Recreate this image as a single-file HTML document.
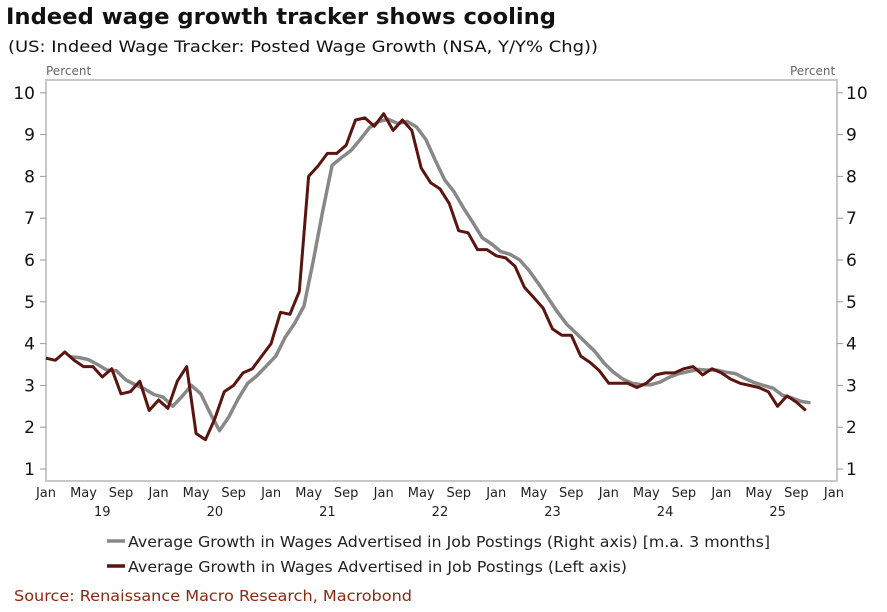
<!DOCTYPE html>
<html><head><meta charset="utf-8"><style>
body{margin:0;background:#fff;width:887px;height:612px;overflow:hidden;font-family:"DejaVu Sans",sans-serif;}
svg{position:absolute;left:0;top:0}
</style></head><body>
<svg id="s" width="887" height="612" xmlns="http://www.w3.org/2000/svg" font-family="DejaVu Sans, Liberation Sans, sans-serif">
<text x="6" y="24" font-size="22" font-weight="bold" fill="#111" textLength="550" lengthAdjust="spacingAndGlyphs">Indeed wage growth tracker shows cooling</text>
<text x="8" y="52" font-size="16" fill="#111" textLength="590" lengthAdjust="spacingAndGlyphs">(US: Indeed Wage Tracker: Posted Wage Growth (NSA, Y/Y% Chg))</text>
<text x="46" y="75" font-size="12" fill="#666">Percent</text>
<text x="790" y="75" font-size="12" fill="#666">Percent</text>
<rect x="46" y="80" width="791" height="401" fill="none" stroke="#c8c8c8" stroke-width="2"/>
<g id="g"></g>
<line x1="107" y1="541" x2="125" y2="541" stroke="#888" stroke-width="3.5"/>
<text x="128" y="547" font-size="15" fill="#222" textLength="642" lengthAdjust="spacingAndGlyphs">Average Growth in Wages Advertised in Job Postings (Right axis) [m.a. 3 months]</text>
<line x1="107" y1="566" x2="125" y2="566" stroke="#5a1510" stroke-width="3.5"/>
<text x="128" y="572" font-size="15" fill="#222" textLength="499" lengthAdjust="spacingAndGlyphs">Average Growth in Wages Advertised in Job Postings (Left axis)</text>
<text x="14" y="601" font-size="15" fill="#8b2a10" textLength="398" lengthAdjust="spacingAndGlyphs">Source: Renaissance Macro Research, Macrobond</text>
</svg>
<script>
var g=document.getElementById('g'),h='';
function Y(v){return 469-(v-1)*41.8}function X(m){return 46+m*9.38}
for(var v=1;v<=10;v++){var y=Y(v);
h+='<line x1="40" y1="'+y+'" x2="46" y2="'+y+'" stroke="#999"/><line x1="837" y1="'+y+'" x2="843" y2="'+y+'" stroke="#999"/>';
h+='<text x="35" y="'+(y+6)+'" font-size="17" text-anchor="end" fill="#111">'+v+'</text>';
h+='<text x="846" y="'+(y+6)+'" font-size="17" fill="#111">'+v+'</text>';}
var mn=['Jan','May','Sep'];
for(var i=0;i<=21;i++){var m=i*4;h+='<text x="'+X(m)+'" y="497" font-size="13" text-anchor="middle" fill="#222">'+mn[i%3]+'</text>';}
for(var yr=0;yr<7;yr++)h+='<text x="'+X(yr*12+6)+'" y="516" font-size="13" text-anchor="middle" fill="#222">'+(19+yr)+'</text>';
var r=[3.65,3.6,3.8,3.6,3.45,3.45,3.2,3.4,2.8,2.85,3.1,2.4,
2.65,2.45,3.1,3.45,1.85,1.7,2.2,2.85,3.0,3.3,3.4,3.7,
4.0,4.75,4.7,5.25,8.0,8.25,8.55,8.55,8.75,9.35,9.4,9.2,
9.5,9.1,9.35,9.1,8.2,7.85,7.7,7.35,6.7,6.65,6.25,6.25,
6.1,6.05,5.85,5.35,5.1,4.85,4.35,4.2,4.2,3.7,3.55,3.35,
3.05,3.05,3.05,2.95,3.05,3.25,3.3,3.3,3.4,3.45,3.25,3.4,
3.3,3.15,3.05,3.0,2.95,2.85,2.5,2.75,2.6,2.4];
var pg='',pr='';
for(var i=0;i<r.length;i++){pr+=(i?'L':'M')+X(i).toFixed(1)+','+Y(r[i]).toFixed(1);
if(i>=2){var a=(r[i]+r[i-1]+r[i-2])/3;pg+=(i>2?'L':'M')+X(i+0.5).toFixed(1)+','+Y(a).toFixed(1);}}
h+='<path d="'+pg+'" fill="none" stroke="#888" stroke-width="3.5" stroke-linejoin="round"/>';
h+='<path d="'+pr+'" fill="none" stroke="#5a1510" stroke-width="3" stroke-linejoin="round"/>';
g.innerHTML=h;
</script>
</body></html>
